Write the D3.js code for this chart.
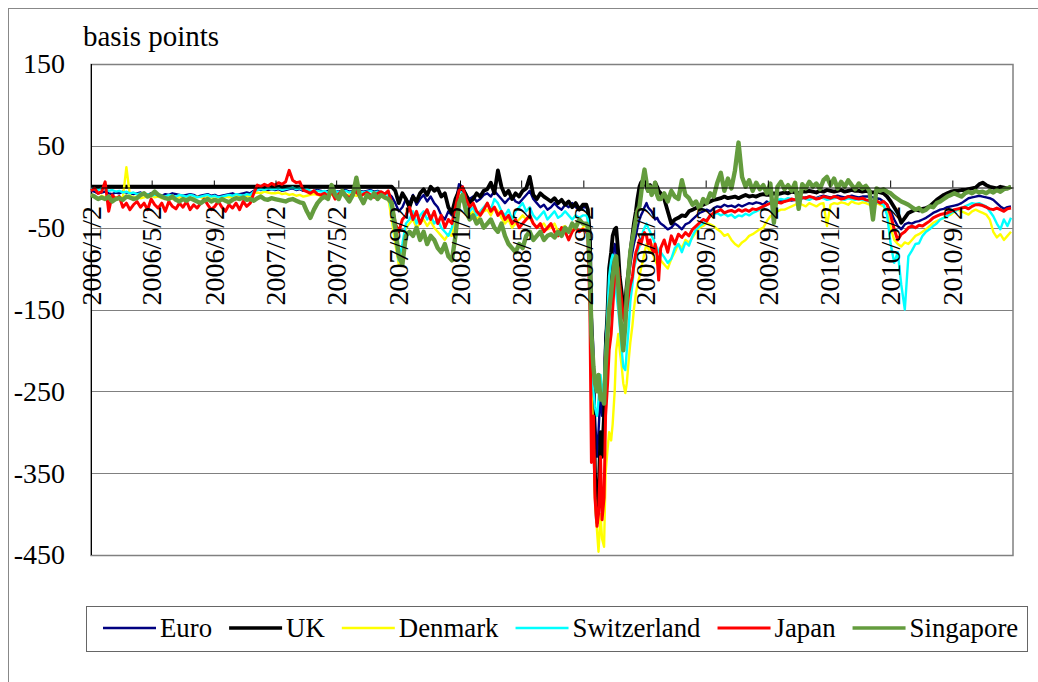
<!DOCTYPE html>
<html>
<head>
<meta charset="utf-8">
<script src="https://cdn.jsdelivr.net/npm/d3@7"></script>
<style>
  body { margin: 0; background: #fff; }
  text { font-family: "Liberation Serif", "Times New Roman", serif; fill: #000; }
</style>
</head>
<body>
<script>
// ---- data (basis points) ----
// weekly Mondays 2006/1/2 .. 2008/9/1, then Mon+Thu 2008/9/8 .. 2009/1/29, then weekly Mondays 2009/2/2 .. 2010/12/27
const seriesNames = ['Euro', 'UK', 'Denmark', 'Switzerland', 'Japan', 'Singapore'];

const euro = [
  -5,-6,-8,-7,-6,-8,-9,-7,-8,-6,-7,-8,-9,
  -8,-7,-9,-10,-8,-9,-10,-11,-9,-10,-8,-9,-10,
  -11,-10,-9,-10,-12,-11,-10,-9,-11,-10,-12,-11,-10,
  -9,-8,-10,-9,-8,-7,-8,-5,-3,-4,-3,-4,-3,
  -4,-3,-5,-4,-3,-2,-4,-3,-5,-4,-6,-5,-4,
  -5,-6,-5,-4,-5,-6,-5,-4,-6,-5,-4,-5,-6,
  -5,-4,-6,-5,-7,-8,
  -8,-12,-20,-30,-25,-15,-20,-10,-22,-15,-10,-18,-12,-20,-25,-35,-40,-30,-35,-20,
  3,0,-10,-15,-12,-18,-15,-10,-8,-12,-5,-10,-15,-20,-15,-12,-18,-20,-15,-10,
  -5,-15,-20,-25,-22,-28,-25,-20,-25,-28,-22,-25,-20,-25,-28,-25,
  // crisis
  -25,-28,-55,-150,-200,-280,-330,-300,-250,-280,
  -250,-180,-160,-120,-100,-90,-70,-80,-100,-120,
  -140,-150,-145,-130,-110,-95,-80,-70,-60,-50,
  -40,-35,-30,-25,-20,-25,-28,-30,-35,-40,-38,-42,
  // 2009/2 on
  -45,-48,-52,-50,-45,-48,-52,-46,-44,-40,
  -36,-32,-30,-28,-30,-26,-24,-25,-22,-24,
  -23,-25,-22,-24,-22,-20,-21,-19,-20,-22,
  -18,-20,-19,-18,-17,-18,-16,-17,-16,-15,
  -14,-13,-12,-13,-14,-12,-11,-12,-13,-12,
  -11,-12,-13,-12,-11,-12,-13,-12,-12,-12,
  -13,-14,-15,-18,-22,-30,-40,-48,-52,-46,
  -44,-45,-43,-42,-40,-38,-35,-32,-30,-28,
  -27,-25,-24,-23,-22,-20,-17,-14,-13,-12,
  -11,-12,-13,-14,-16,-20,-24,-27,-25,-24
];

const uk = [
  0,0,0,0,0,0,0,0,0,0,0,0,0,
  0,0,0,0,0,0,0,0,0,0,0,0,0,
  0,0,0,0,0,0,0,0,0,0,0,0,0,
  0,0,0,0,0,0,0,0,0,0,0,0,0,
  0,0,0,0,0,0,0,0,0,0,0,0,0,
  0,0,0,0,0,0,0,0,0,0,0,0,0,
  0,0,0,0,0,0,
  0,0,-5,-20,-8,-15,-25,-12,-18,-8,-3,-10,0,-5,-2,-12,-8,-25,-32,-15,
  -5,-2,-10,-20,-15,-8,-12,-5,-3,5,-8,20,0,-10,-5,-15,-8,-12,-5,-2,
  12,-10,-15,-8,-12,-15,-18,-14,-20,-16,-22,-18,-25,-20,-28,-22,
  -22,-28,-60,-180,-250,-350,-410,-380,-300,-330,
  -280,-200,-150,-100,-80,-60,-52,-50,-80,-110,
  -130,-150,-140,-120,-100,-80,-60,-45,-30,-15,
  0,5,8,5,0,-5,2,-3,-5,5,0,-5,
  -8,-15,-30,-45,-40,-38,-35,-36,-30,-28,
  -26,-24,-22,-20,-18,-16,-15,-14,-12,-14,
  -13,-12,-14,-12,-10,-12,-11,-12,-10,-9,
  -10,-10,-8,-9,-8,-7,-8,-6,-7,-8,
  -6,-6,-5,-6,-7,-5,-6,-4,-5,-6,
  -5,-4,-6,-5,-4,-5,-5,-6,-5,-6,
  -7,-6,-7,-8,-12,-18,-25,-32,-44,-38,
  -32,-30,-28,-29,-27,-26,-24,-20,-16,-13,
  -10,-8,-6,-5,-5,-4,-4,-3,-2,-1,
  3,5,2,0,-1,-2,0,-1,-2,0
];

const denmark = [
  -10,-12,-15,-11,-13,-12,-14,-13,-12,-14,24,-11,-13,
  -12,-14,-13,-12,-11,-13,-12,-14,-13,-12,-15,-14,-13,
  -14,-13,-15,-14,-12,-13,-14,-12,-13,-15,-14,-13,-12,
  -13,-12,-11,-13,-12,-11,-12,-8,-7,-8,-6,-7,-8,
  -8,-7,-9,-8,-10,-9,-11,-10,-12,-11,-10,-9,-10,
  -11,-10,-9,-10,-11,-9,-10,-11,-9,-10,-11,-10,-9,
  -10,-11,-12,-10,-12,-14,
  -14,-40,-70,-95,-75,-50,-45,-40,-50,-45,-40,-48,-42,-50,-55,-60,-65,-58,-60,-40,
  -10,-12,-25,-35,-30,-40,-35,-30,-28,-35,-25,-30,-38,-45,-40,-50,-45,-40,-35,-40,
  -38,-45,-50,-48,-45,-52,-50,-45,-55,-50,-48,-55,-52,-50,-55,-50,
  -45,-50,-90,-250,-300,-380,-420,-446,-400,-430,
  -440,-350,-320,-300,-310,-290,-250,-200,-180,-200,
  -220,-240,-252,-240,-210,-190,-170,-150,-130,-120,
  -110,-100,-90,-80,-70,-75,-80,-70,-85,-90,-95,-90,
  -90,-95,-100,-88,-80,-70,-75,-65,-68,-62,
  -55,-50,-48,-44,-46,-48,-52,-55,-60,-58,
  -65,-70,-73,-68,-65,-60,-58,-55,-52,-50,
  -42,-36,-34,-30,-28,-28,-26,-24,-22,-20,
  -22,-24,-20,-22,-24,-21,-20,-48,-22,-20,
  -21,-19,-20,-22,-18,-20,-21,-19,-20,-22,
  -21,-20,-22,-24,-30,-50,-65,-70,-73,-68,
  -70,-65,-60,-58,-55,-52,-48,-44,-42,-40,
  -38,-36,-34,-30,-28,-30,-32,-34,-30,-28,
  -30,-32,-34,-40,-55,-62,-58,-65,-60,-55
];

const switzerland = [
  -2,-3,-4,-2,-3,-5,-4,-6,-5,-7,-6,-8,-7,
  -9,-8,-10,-9,-11,-10,-9,-11,-12,-10,-11,-12,-10,
  -11,-12,-10,-11,-13,-12,-11,-10,-12,-11,-13,-12,-11,
  -10,-11,-9,-10,-11,-9,-10,-6,-4,-3,-4,-2,-3,
  -3,-2,-4,-3,-2,-1,-3,-2,-4,-3,-5,-6,-5,
  -6,-5,-7,-6,-5,-7,-6,-5,-7,-6,-5,-6,-7,
  -6,-5,-7,-6,-8,-9,
  -10,-30,-60,-90,-70,-45,-40,-30,-45,-35,-30,-40,-35,-45,-40,-50,-55,-60,-50,-30,
  -5,-8,-20,-30,-25,-35,-30,-25,-20,-28,-15,-20,-30,-35,-28,-40,-30,-25,-20,-30,
  -25,-35,-40,-35,-30,-40,-35,-30,-38,-35,-30,-35,-40,-35,-38,-35,
  -35,-40,-80,-200,-250,-270,-280,-260,-230,-250,
  -240,-200,-150,-110,-90,-83,-100,-130,-150,-170,
  -200,-220,-224,-200,-170,-140,-120,-100,-90,-80,
  -73,-65,-55,-50,-45,-50,-55,-60,-65,-70,-75,-80,
  -80,-86,-93,-88,-75,-70,-80,-68,-72,-60,
  -52,-48,-45,-40,-36,-34,-32,-35,-33,-36,
  -34,-38,-35,-36,-33,-35,-32,-30,-28,-25,
  -22,-18,-17,-16,-15,-16,-14,-15,-16,-14,
  -13,-15,-16,-14,-15,-13,-14,-16,-15,-14,
  -13,-15,-16,-14,-15,-16,-15,-16,-17,-18,
  -17,-19,-20,-22,-35,-70,-93,-80,-120,-150,
  -85,-78,-70,-69,-60,-55,-52,-48,-45,-40,
  -38,-36,-32,-30,-28,-26,-24,-22,-20,-21,
  -20,-22,-24,-30,-36,-45,-52,-40,-48,-38
];

const japan = [
  -5,-2,-8,-6,6,-30,-10,-15,-12,-25,-20,-28,-22,
  -18,-25,-20,-28,-15,-22,-26,-20,-30,-18,-24,-27,-20,
  -25,-18,-28,-22,-26,-20,-15,-22,-28,-24,-18,-25,-30,
  -22,-26,-20,-28,-18,-24,-20,-8,2,0,3,1,4,
  2,5,3,6,20,8,5,6,-4,-6,-8,-5,-9,
  -10,-8,-12,-6,-15,-9,-5,-10,-14,-8,-6,-12,-9,
  -7,-10,-13,-8,-6,-9,
  -5,-20,-45,-55,-40,-35,-25,-40,-30,-45,-35,-28,-40,-30,-45,-35,-50,-40,-45,-25,
  -5,0,-15,-25,-20,-30,-35,-28,-20,-30,-25,-35,-30,-40,-35,-45,-40,-50,-45,-40,
  -35,-45,-50,-45,-55,-50,-45,-55,-60,-50,-55,-65,-55,-50,-55,-52,
  -55,-60,-150,-337,-280,-380,-415,-400,-330,-407,
  -380,-280,-240,-200,-180,-150,-110,-90,-100,-120,
  -140,-160,-166,-150,-130,-120,-110,-95,-80,-75,
  -65,-70,-60,-56,-60,-70,-65,-75,-80,-70,-85,-114,
  -75,-65,-80,-60,-70,-58,-62,-56,-60,-52,
  -48,-44,-40,-42,-35,-32,-30,-28,-32,-30,
  -29,-31,-28,-30,-28,-30,-27,-28,-26,-24,
  -22,-20,-21,-19,-20,-18,-17,-15,-16,-14,
  -13,-14,-12,-13,-15,-14,-12,-13,-14,-12,
  -13,-15,-14,-12,-13,-14,-15,-14,-16,-17,
  -18,-17,-20,-18,-22,-35,-52,-65,-58,-55,
  -50,-48,-50,-47,-48,-45,-42,-38,-36,-34,
  -33,-32,-30,-28,-27,-26,-25,-27,-24,-22,
  -22,-23,-25,-27,-28,-26,-28,-30,-27,-26
];

const singapore = [
  -10,-12,-15,-13,-15,-12,-18,-15,-14,-16,-12,
  -13,-15,-14,-10,-8,-12,-10,-6,-10,-12,
  -14,-15,-12,-16,-18,-15,-17,-14,-16,-18,-20,-17,-15,-18,-16,
  -18,-15,-17,-19,-16,-14,-15,-13,-16,-15,-17,-14,-12,-15,-16,-14,
  -15,-16,-17,-18,-16,-15,-17,-19,-20,-30,-38,-28,-20,-15,-12,-15,2,
  -10,-15,-5,-12,-18,-10,11,-12,-20,-10,-14,-8,-15,-10,-13,
  -15,-20,-50,-85,-95,-60,-55,-60,-50,-65,-55,-70,-60,-65,-75,-80,-70,-85,-90,-60,
  -20,-10,-30,-40,-35,-45,-40,-50,-45,-40,-50,-55,-45,-60,-70,-75,-80,-70,-75,-60,
  -55,-65,-60,-55,-65,-60,-58,-62,-55,-60,-50,-55,-45,-50,-40,-45,
  -45,-50,-100,-180,-220,-240,-250,-230,-260,-255,
  -265,-220,-180,-150,-130,-110,-90,-85,-120,-150,
  -180,-200,-170,-130,-100,-80,-65,-55,-40,-30,
  -24,-10,10,21,5,-5,0,-10,-5,5,-10,-15,
  -15,-8,-18,-5,-12,-15,8,-10,-14,-22,
  -18,-28,-15,-20,-8,-12,5,17,-5,10,
  -2,20,54,12,0,8,-5,5,-3,2,
  -8,4,-44,0,6,-3,2,-5,5,-27,
  3,-2,6,0,4,-3,8,12,2,10,
  -2,6,0,8,2,-3,4,-2,1,-5,
  -40,-2,-5,-3,-6,-8,-12,-15,-18,-20,
  -22,-25,-28,-26,-30,-28,-24,-25,-20,-18,
  -15,-12,-10,-8,-10,-12,-8,-6,-8,-5,
  -7,-6,-8,-5,-7,-4,-6,-3,-2,0
];

const yTicks = [150, 50, -50, -150, -250, -350, -450];
const yGrid = [50, -50, -150, -250, -350];

(function() {
  'use strict';

  // ---- dates ----
  const utc = (yy, m, d) => new Date(Date.UTC(yy, m, d));
  const dates = [].concat(
    d3.utcMonday.range(utc(2006, 0, 2), utc(2008, 8, 2)),
    d3.merge([
      d3.utcMonday.range(utc(2008, 8, 8), utc(2009, 0, 30)),
      d3.utcThursday.range(utc(2008, 8, 11), utc(2009, 0, 30))
    ]).sort(d3.ascending),
    d3.utcMonday.range(utc(2009, 1, 2), utc(2010, 11, 28))
  );
  const xTicks = d3.utcMonth.every(4).range(utc(2006, 0, 1), utc(2010, 11, 1))
    .map((d) => d3.utcDay.offset(d, 1));

  const series = [
    { name: seriesNames[0], values: euro, color: '#000080', width: 2.4 },
    { name: seriesNames[1], values: uk, color: '#000000', width: 3.8 },
    { name: seriesNames[2], values: denmark, color: '#ffff00', width: 2.4 },
    { name: seriesNames[3], values: switzerland, color: '#00ffff', width: 2.4 },
    { name: seriesNames[4], values: japan, color: '#ff0000', width: 3 },
    { name: seriesNames[5], values: singapore, color: '#649c3e', width: 4.4 }
  ];

  // ---- layout ----
  const w = 1038;
  const h = 682;
  const pL = 91, pR = 1013, pT = 64, pB = 555;

  const svg = d3.select('body').append('svg')
    .attr('width', w)
    .attr('height', h);

  // chart frame
  svg.append('rect')
    .attr('x', 8.5).attr('y', 8.5)
    .attr('width', 1040).attr('height', 700)
    .attr('fill', 'none')
    .attr('stroke', '#888');

  const xScale = d3.scaleUtc()
    .domain([utc(2006, 0, 2), utc(2010, 11, 31)])
    .range([pL, pR]);

  const yScale = d3.scaleLinear()
    .domain([-450, 150])
    .range([pB, pT]);

  // gridlines
  svg.append('g')
    .selectAll('line')
    .data(yGrid)
    .enter()
    .append('line')
    .attr('x1', pL).attr('x2', pR)
    .attr('y1', (d) => Math.round(yScale(d)) + 0.5)
    .attr('y2', (d) => Math.round(yScale(d)) + 0.5)
    .attr('stroke', '#808080')
    .attr('stroke-width', 1);

  // plot border
  svg.append('rect')
    .attr('x', pL).attr('y', pT + 0.5)
    .attr('width', pR - pL).attr('height', pB - pT)
    .attr('fill', 'none')
    .attr('stroke', '#808080')
    .attr('stroke-width', 1.5);

  // y axis labels
  const yAxis = d3.axisLeft(yScale)
    .tickValues(yTicks)
    .tickSize(0)
    .tickPadding(26)
    .tickFormat((d) => String(d));
  const gy = svg.append('g')
    .attr('transform', 'translate(' + pL + ',0)')
    .call(yAxis);
  gy.select('.domain').remove();
  gy.selectAll('text')
    .attr('font-size', 28)
    .attr('font-family', '"Liberation Serif", serif');

  svg.append('line')
    .attr('x1', pL + 0.5).attr('x2', pL + 0.5)
    .attr('y1', pT).attr('y2', pB)
    .attr('stroke', '#000');

  // series
  const line = d3.line()
    .x((d, i) => xScale(dates[i]))
    .y((d) => yScale(d));

  svg.append('g')
    .selectAll('path')
    .data(series)
    .enter()
    .append('path')
    .attr('d', (s) => line(s.values))
    .attr('fill', 'none')
    .attr('stroke', (s) => s.color)
    .attr('stroke-width', (s) => s.width)
    .attr('stroke-linejoin', 'round');

  // x axis at zero, ticks pointing up
  const xAxis = d3.axisBottom(xScale)
    .tickValues(xTicks)
    .tickSizeInner(-7)
    .tickSizeOuter(0)
    .tickFormat('');
  const gx = svg.append('g')
    .attr('transform', 'translate(0,' + (Math.round(yScale(0)) + 0.5) + ')')
    .call(xAxis);
  gx.select('.domain').attr('stroke', '#000');

  // rotated date labels
  const fmt = d3.utcFormat('%Y/%-m/%-d');
  svg.append('g')
    .selectAll('text')
    .data(xTicks)
    .enter()
    .append('text')
    .attr('transform', (d) => 'translate(' + xScale(d) + ',206) rotate(-90)')
    .attr('text-anchor', 'end')
    .attr('dy', '0.35em')
    .attr('font-size', 28)
    .text((d) => fmt(d));

  // unit label
  svg.append('text')
    .attr('x', 83)
    .attr('y', 46)
    .attr('font-size', 29)
    .text('basis points');

  // legend
  svg.append('rect')
    .attr('x', 86.5).attr('y', 606.5)
    .attr('width', 941).attr('height', 45)
    .attr('fill', '#fff')
    .attr('stroke', '#666');

  let lx = 103;
  series.forEach((s) => {
    svg.append('line')
      .attr('x1', lx).attr('x2', lx + 53)
      .attr('y1', 628).attr('y2', 628)
      .attr('stroke', s.color)
      .attr('stroke-width', Math.min(s.width, 3.6));
    const t = svg.append('text')
      .attr('x', lx + 57)
      .attr('y', 637)
      .attr('font-size', 26.8)
      .text(s.name);
    lx += 57 + t.node().getComputedTextLength() + 17;
  });
}());
</script>
</body>
</html>
